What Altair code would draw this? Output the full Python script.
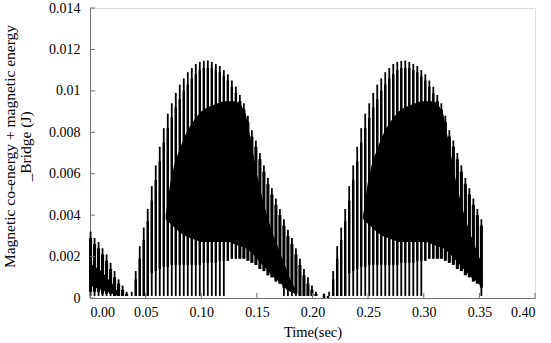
import altair as alt
import pandas as pd

# ---------------- data ----------------
x_ticks = [0.00, 0.05, 0.10, 0.15, 0.20, 0.25, 0.30, 0.35, 0.40]
y_ticks = [0, 0.002, 0.004, 0.006, 0.008, 0.010, 0.012, 0.014]

# initial decaying segment (spike instants, t in s, energy in J)
seg0_t = [0.0005, 0.0041, 0.0077, 0.0113, 0.0149, 0.0185, 0.0221, 0.0257, 0.0293, 0.0329]
seg0_outer = [0.0032, 0.0029, 0.0027, 0.0024, 0.0021, 0.0017, 0.0013, 0.0009, 0.0006, 0.0003]
seg0_inner = [0.0029, 0.0026, 0.0024, 0.0021, 0.0018, 0.0014, 0.0010, 0.0007, 0.0004, 0.0002]
seg0_midlo = [0.0003, 0.0003, 0.0003, 0.0002, 0.0002, 0.0002, 0.0001, 0.0001, 0.0001, 0.0001]
seg0_lo = [0.0001] * 10

# one energy hump (spike instants)
hump_t = [0.0375, 0.0411, 0.0447, 0.0483, 0.0519, 0.0555, 0.0591, 0.0627, 0.0663, 0.0699,
          0.0735, 0.0771, 0.0807, 0.0843, 0.0879, 0.0915, 0.0951, 0.0987, 0.1023, 0.1059,
          0.1095, 0.1131, 0.1167, 0.1203, 0.1239, 0.1275, 0.1311, 0.1347, 0.1383, 0.1419,
          0.1455, 0.1491, 0.1527, 0.1563, 0.1599, 0.1635, 0.1671, 0.1707, 0.1743, 0.1779,
          0.1815, 0.1851, 0.1887, 0.1923, 0.1959, 0.1995, 0.2031, 0.2067]
hump_outer = [0.0003, 0.0013, 0.0025, 0.0034, 0.0043, 0.0054, 0.0064, 0.0073, 0.0082, 0.0089,
              0.0094, 0.0099, 0.0103, 0.0106, 0.0109, 0.0111, 0.0113, 0.0114, 0.01145, 0.01147,
              0.0114, 0.0113, 0.0112, 0.0110, 0.0108, 0.0105, 0.0102, 0.0098, 0.0094, 0.0088,
              0.0081, 0.0076, 0.0070, 0.0064, 0.0058, 0.0053, 0.0048, 0.0043, 0.0038, 0.0033,
              0.0029, 0.0024, 0.0019, 0.0014, 0.0010, 0.0006, 0.0003, 0.0001]
hump_inner = [0.0001, 0.0009, 0.0019, 0.0028, 0.0037, 0.0047, 0.0057, 0.0066, 0.0075, 0.0082,
              0.0087, 0.0092, 0.0096, 0.0100, 0.0103, 0.0106, 0.0108, 0.0110, 0.0111, 0.0111,
              0.0111, 0.0110, 0.0109, 0.0107, 0.0105, 0.0102, 0.0099, 0.0095, 0.0091, 0.0085,
              0.0078, 0.0073, 0.0067, 0.0061, 0.0055, 0.0050, 0.0045, 0.0040, 0.0035, 0.0030,
              0.0026, 0.0021, 0.0016, 0.0011, 0.0007, 0.0004, 0.0002, 0.0001]
hump_midlo = [0.0001, 0.0001, 0.0001, 0.0001, 0.0001, 0.0012, 0.0013, 0.0014, 0.0015, 0.0015,
              0.0016, 0.0016, 0.0016, 0.0016, 0.0016, 0.0016, 0.0016, 0.0016, 0.0017, 0.0017,
              0.0017, 0.0017, 0.0018, 0.0018, 0.0018, 0.0019, 0.0019, 0.0019, 0.0019, 0.0018,
              0.0017, 0.0016, 0.0014, 0.0013, 0.0011, 0.0010, 0.0008, 0.0007, 0.0005, 0.0004,
              0.0003, 0.0002, 0.0001, 0.0001, 0.0001, 0.0001, 0.0001, 0.0001]
hump_lo = [0.0001, 0.0001, 0.0001, 0.0001, 0.0001, 0.0001, 0.0001, 0.0001, 0.0001, 0.0001,
           0.0001, 0.0001, 0.0001, 0.0001, 0.0001, 0.0001, 0.0001, 0.0001, 0.0001, 0.0001,
           0.0001, 0.0001, 0.0001, 0.0001, 0.0018, 0.0019, 0.0019, 0.0019, 0.0019, 0.0018,
           0.0017, 0.0016, 0.0014, 0.0013, 0.0011, 0.0010, 0.0008, 0.0007, 0.0001, 0.0001,
           0.0001, 0.0001, 0.0001, 0.0001, 0.0001, 0.0001, 0.0001, 0.0001]

# small residual spikes between the two humps
gap_t = [0.2103, 0.2139]
gap_v = [0.0002, 0.0001]

# solid (fully overlapped) core of the hump
core_t = [0.068, 0.072, 0.076, 0.080, 0.085, 0.090, 0.095, 0.100, 0.105, 0.110,
          0.115, 0.120, 0.125, 0.130, 0.135, 0.140, 0.145, 0.150, 0.155, 0.160,
          0.165, 0.170, 0.175, 0.180, 0.185]
core_hi = [0.0040, 0.0055, 0.0065, 0.0071, 0.0078, 0.0083, 0.0087, 0.0090, 0.0092, 0.0093,
           0.0094, 0.0095, 0.0095, 0.0095, 0.0094, 0.0089, 0.0075, 0.0060, 0.0048, 0.0038,
           0.0030, 0.0023, 0.0016, 0.0009, 0.0004]
core_lo = [0.0038, 0.0036, 0.0034, 0.0032, 0.0030, 0.0029, 0.0028, 0.0027, 0.0027, 0.0027,
           0.0027, 0.0027, 0.0027, 0.0026, 0.0025, 0.0024, 0.0022, 0.0019, 0.0016, 0.0013,
           0.0010, 0.0008, 0.0005, 0.0003, 0.0002]

seg0_core_t = [0.0, 0.005, 0.010, 0.015, 0.020, 0.025]
seg0_core_hi = [0.0017, 0.0015, 0.0013, 0.0010, 0.0007, 0.0003]
seg0_core_lo = [0.0006, 0.0005, 0.0004, 0.0003, 0.0002, 0.0001]

hump_shift = 0.1775   # second hump repeats the first one
t_end = 0.353          # simulation stops here

# ---------------- tables ----------------
s0 = pd.DataFrame(dict(t=seg0_t, outer=seg0_outer, inner=seg0_inner, midlo=seg0_midlo, lo=seg0_lo))
h1 = pd.DataFrame(dict(t=hump_t, outer=hump_outer, inner=hump_inner, midlo=hump_midlo, lo=hump_lo))
h2 = h1.copy()
h2["t"] = h2["t"] + hump_shift
h2 = h2[h2["t"] <= t_end]
gp = pd.DataFrame(dict(t=gap_t, outer=gap_v, inner=gap_v, midlo=[0.0] * len(gap_t), lo=[0.0] * len(gap_t)))
spikes = pd.concat([s0, h1, gp, h2], ignore_index=True)

c0 = pd.DataFrame(dict(t=seg0_core_t, hi=seg0_core_hi, lo=seg0_core_lo, seg="a"))
c1 = pd.DataFrame(dict(t=core_t, hi=core_hi, lo=core_lo, seg="b"))
c2 = c1.copy()
c2["t"] = c2["t"] + hump_shift
c2["seg"] = "c"
c2 = c2[c2["t"] <= t_end]
core = pd.concat([c0, c1, c2], ignore_index=True)

xt = pd.DataFrame(dict(t=x_ticks))
yt = pd.DataFrame(dict(v=y_ticks))

FONT = "Liberation Serif, Times New Roman, serif"
W, H = 445, 290

xs = alt.Scale(domain=[0, 0.4], nice=False, zero=False)
ys = alt.Scale(domain=[0, 0.014], nice=False)

x_axis = alt.Axis(values=x_ticks, format=".2f", title="Time(sec)", grid=False,
                  ticks=False, tickSize=0, labelPadding=7, domainColor="#707070",
                  labelFont=FONT, labelFontSize=14, labelColor="black",
                  titleFont=FONT, titleFontSize=14.5, titleFontWeight="normal",
                  titleColor="black", titlePadding=6)
y_axis = alt.Axis(values=y_ticks, labelExpr="format(datum.value, '.3~f')",
                  title=["Magnetic co-energy + magnetic energy", "_Bridge (J)"],
                  grid=False, ticks=False, tickSize=0, labelPadding=10,
                  domainColor="#707070", labelFont=FONT, labelFontSize=14,
                  labelColor="black", titleFont=FONT, titleFontSize=15.5,
                  titleFontWeight="normal", titleColor="black",
                  titleAngle=-90, titleBaseline="top", titleAlign="center",
                  titleX=-88, titleY=138, titleLineHeight=16)

base_core = alt.Chart(core).mark_area(color="black", opacity=1).encode(
    x=alt.X("t:Q", scale=xs, axis=x_axis),
    y=alt.Y("lo:Q", scale=ys, axis=y_axis),
    y2="hi:Q",
    detail="seg:N",
)

thin = alt.Chart(spikes).mark_rule(color="black", strokeWidth=1.8).encode(
    x=alt.X("t:Q", scale=xs), y=alt.Y("lo:Q", scale=ys), y2="outer:Q")

rising = "(datum.t > 0.035 && datum.t < 0.133) || (datum.t > 0.21 && datum.t < 0.31)"
thick_rise = alt.Chart(spikes).transform_filter(rising).mark_rule(
    color="black", strokeWidth=2.4).encode(
    x=alt.X("t:Q", scale=xs), y=alt.Y("midlo:Q", scale=ys), y2="inner:Q")
thick_fall = alt.Chart(spikes).transform_filter("!(" + rising + ")").mark_rule(
    color="black", strokeWidth=3.1).encode(
    x=alt.X("t:Q", scale=xs), y=alt.Y("midlo:Q", scale=ys), y2="inner:Q")

xtick = alt.Chart(xt).mark_rule(color="#707070", strokeWidth=1).encode(
    x=alt.X("t:Q", scale=xs), y=alt.value(H - 5), y2=alt.value(H))
ytick = alt.Chart(yt).mark_rule(color="#707070", strokeWidth=1).encode(
    y=alt.Y("v:Q", scale=ys), x=alt.value(0), x2=alt.value(5))

chart = alt.layer(base_core, thin, thick_rise, thick_fall, xtick, ytick).properties(
    width=W, height=H,
    autosize=alt.AutoSizeParams(type="none"),
    padding={"left": 90, "top": 8, "right": 16, "bottom": 45},
).configure_view(stroke=None).configure(background="white", font=FONT)

chart.save("out.html", embed_options={"renderer": "svg", "actions": False})
